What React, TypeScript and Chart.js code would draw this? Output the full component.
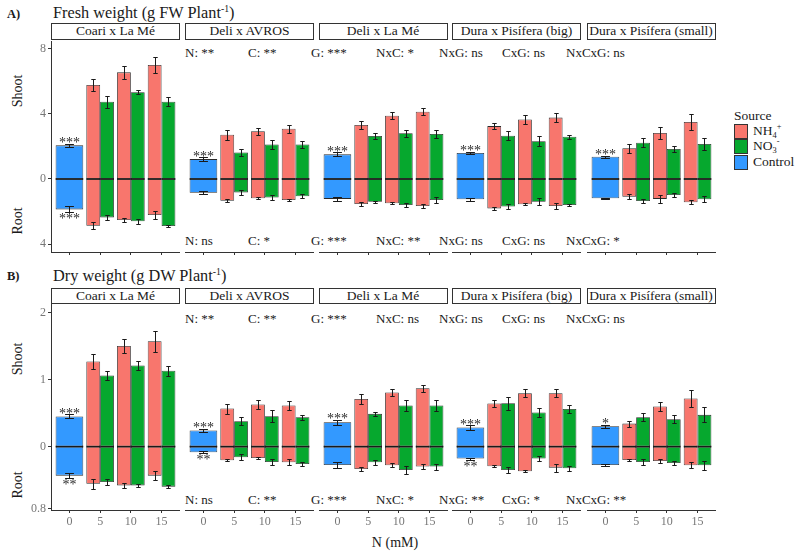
import React, { useEffect, useRef } from "react";
import { Chart, registerables } from "chart.js";

Chart.register(...registerables);

const SERIF = "'Liberation Serif', 'Times New Roman', serif";
const NH4_COLOR = "#F8766D";
const NO3_COLOR = "#06A82E";
const CTRL_COLOR = "#3399FF";
const EDGE = "#2a2a2a";
const AXIS = "#333333";
const TICK_TEXT = "#777777";

// ---------- categories ----------
const genotypes = ["Coari x La Mé", "Deli x AVROS", "Deli x La Mé", "Dura x Pisífera (big)", "Dura x Pisífera (small)"];
const nLevels = ["0", "5", "10", "15"];

// ---------- A) Fresh weight (g FW plant-1) ----------
const fwCtrlShoot = [2.06, 1.22, 1.51, 1.59, 1.37];
const fwCtrlShootErr = [0.11, 0.12, 0.12, 0.08, 0.06];
const fwCtrlRoot = [1.86, 0.84, 1.22, 1.24, 1.18];
const fwCtrlRootErr = [0.18, 0.1, 0.12, 0.1, 0.04];
// per genotype, N = 5, 10, 15 mM
const fwNH4Shoot = [[5.76, 6.53, 6.98], [2.71, 2.92, 3.08], [3.31, 3.88, 4.12], [3.24, 3.65, 3.76], [1.88, 2.82, 3.49]];
const fwNH4ShootErr = [[0.36, 0.4, 0.47], [0.31, 0.21, 0.24], [0.22, 0.22, 0.21], [0.2, 0.29, 0.29], [0.29, 0.39, 0.47]];
const fwNH4Root = [[2.86, 2.51, 2.2], [1.33, 1.18, 1.29], [1.53, 1.49, 1.65], [1.8, 1.55, 1.65], [1.08, 1.22, 1.43]];
const fwNH4RootErr = [[0.2, 0.13, 0.24], [0.08, 0.06, 0.06], [0.1, 0.06, 0.13], [0.11, 0.07, 0.18], [0.14, 0.22, 0.13]];
const fwNO3Shoot = [[4.73, 5.31, 4.73], [1.63, 2.12, 2.12], [2.63, 2.8, 2.76], [2.65, 2.31, 2.59], [2.22, 1.84, 2.14]];
const fwNO3ShootErr = [[0.36, 0.12, 0.29], [0.22, 0.28, 0.23], [0.17, 0.2, 0.24], [0.29, 0.3, 0.12], [0.29, 0.19, 0.35]];
const fwNO3Root = [[2.35, 2.59, 2.88], [0.82, 1.14, 1.06], [1.39, 1.59, 1.29], [1.69, 1.39, 1.59], [1.35, 0.98, 1.24]];
const fwNO3RootErr = [[0.17, 0.14, 0.04], [0.13, 0.17, 0.13], [0.06, 0.14, 0.2], [0.14, 0.2, 0.06], [0.14, 0.11, 0.18]];
const fwSigShoot = ["***", "***", "***", "***", "***"];
const fwSigRoot = ["***", "", "", "", ""];
const fwNotesTop = ["N: **", "C: **", "G: ***", "NxC: *", "NxG: ns", "CxG: ns", "NxCxG: ns"];
const fwNotesBottom = ["N: ns", "C: *", "G: ***", "NxC: **", "NxG: ns", "CxG: ns", "NxCxG: *"];
const fwShootTicks = [8, 4, 0];
const fwRootTicks = [4];

// ---------- B) Dry weight (g DW plant-1) ----------
const dwCtrlShoot = [0.45, 0.24, 0.363, 0.284, 0.303];
const dwCtrlShootErr = [0.03, 0.025, 0.04, 0.032, 0.02];
const dwCtrlRoot = [0.374, 0.073, 0.237, 0.155, 0.237];
const dwCtrlRootErr = [0.032, 0.01, 0.034, 0.013, 0.009];
const dwNH4Shoot = [[1.27, 1.5, 1.57], [0.567, 0.627, 0.612], [0.711, 0.806, 0.87], [0.642, 0.796, 0.796], [0.343, 0.597, 0.716]];
const dwNH4ShootErr = [[0.11, 0.11, 0.16], [0.075, 0.06, 0.072], [0.08, 0.057, 0.05], [0.057, 0.06, 0.062], [0.045, 0.067, 0.127]];
const dwNH4Root = [[0.48, 0.5, 0.374], [0.176, 0.146, 0.202], [0.288, 0.241, 0.258], [0.254, 0.318, 0.271], [0.172, 0.185, 0.241]];
const dwNH4RootErr = [[0.062, 0.034, 0.06], [0.013, 0.013, 0.04], [0.02, 0.026, 0.034], [0.013, 0.015, 0.052], [0.009, 0.03, 0.04]];
const dwNO3Shoot = [[1.06, 1.21, 1.13], [0.378, 0.453, 0.438], [0.488, 0.612, 0.612], [0.647, 0.507, 0.562], [0.438, 0.408, 0.473]];
const dwNO3ShootErr = [[0.062, 0.07, 0.075], [0.06, 0.092, 0.04], [0.032, 0.08, 0.075], [0.095, 0.072, 0.057], [0.06, 0.06, 0.112]];
const dwNO3Root = [[0.456, 0.5, 0.516], [0.138, 0.198, 0.224], [0.202, 0.301, 0.258], [0.301, 0.155, 0.28], [0.198, 0.211, 0.241]];
const dwNO3RootErr = [[0.034, 0.02, 0.02], [0.039, 0.039, 0.02], [0.03, 0.05, 0.04], [0.039, 0.028, 0.03], [0.04, 0.03, 0.056]];
const dwSigShoot = ["***", "***", "***", "***", "*"];
const dwSigRoot = ["**", "**", "", "**", ""];
const dwNotesTop = ["N: **", "C: **", "G: ***", "NxC: ns", "NxG: ns", "CxG: ns", "NxCxG: ns"];
const dwNotesBottom = ["N: ns", "C: **", "G: ***", "NxC: *", "NxG: **", "CxG: *", "NxCxG: **"];
const dwShootTicks = [2, 1, 0];
const dwRootTicks = [0.8];

// ---------- layout (not data) ----------
const facetLefts = [51, 185, 318.5, 452, 586.5];
const FACET_W = 129;
const Y_AXIS_W = 30;
const noteLefts = [185, 248, 311, 376, 439, 502, 566];

const panels: any[] = [
  {
    tag: "A)", title: "Fresh weight (g FW Plant", sup: "-1",
    ctrlShoot: fwCtrlShoot, ctrlShootErr: fwCtrlShootErr, ctrlRoot: fwCtrlRoot, ctrlRootErr: fwCtrlRootErr,
    nh4Shoot: fwNH4Shoot, nh4ShootErr: fwNH4ShootErr, nh4Root: fwNH4Root, nh4RootErr: fwNH4RootErr,
    no3Shoot: fwNO3Shoot, no3ShootErr: fwNO3ShootErr, no3Root: fwNO3Root, no3RootErr: fwNO3RootErr,
    sigShoot: fwSigShoot, sigRoot: fwSigRoot, notesTop: fwNotesTop, notesBottom: fwNotesBottom,
    shootTicks: fwShootTicks, rootTicks: fwRootTicks, rootFactor: 1, yMin: -4.47, yMax: 8.45,
    showX: false,
    L: { tagY: 14, titleY: 13, stripTop: 23.3, plotTop: 41, plotH: 211, xAxisH: 4, noteTopY: 52, noteBottomY: 240, shootY: 91, rootY: 221 },
  },
  {
    tag: "B)", title: "Dry weight (g DW Plant", sup: "-1",
    ctrlShoot: dwCtrlShoot, ctrlShootErr: dwCtrlShootErr, ctrlRoot: dwCtrlRoot, ctrlRootErr: dwCtrlRootErr,
    nh4Shoot: dwNH4Shoot, nh4ShootErr: dwNH4ShootErr, nh4Root: dwNH4Root, nh4RootErr: dwNH4RootErr,
    no3Shoot: dwNO3Shoot, no3ShootErr: dwNO3ShootErr, no3Root: dwNO3Root, no3RootErr: dwNO3RootErr,
    sigShoot: dwSigShoot, sigRoot: dwSigRoot, notesTop: dwNotesTop, notesBottom: dwNotesBottom,
    shootTicks: dwShootTicks, rootTicks: dwRootTicks, rootFactor: 1.157, yMin: -0.945, yMax: 2.14,
    showX: true,
    L: { tagY: 276, titleY: 276, stripTop: 287.5, plotTop: 303, plotH: 207, xAxisH: 19, noteTopY: 318, noteBottomY: 499, shootY: 359, rootY: 485 },
  },
];

const errorBarPlugin = {
  id: "errorBars",
  afterDatasetsDraw(chart: any) {
    const ctx = chart.ctx;
    const ys = chart.scales.y;
    const y0 = ys.getPixelForValue(0);
    ctx.save();
    ctx.strokeStyle = "#1a1a1a";
    ctx.fillStyle = "#1a1a1a";
    ctx.lineWidth = 1;
    chart.data.datasets.forEach((ds: any, di: number) => {
      const meta = chart.getDatasetMeta(di);
      meta.data.forEach((el: any, i: number) => {
        const v = ds.data[i].y;
        if (v === null || v === undefined) return;
        if (v > 0) {
          // shoot / root boundary line across the bar
          ctx.fillRect(el.x - el.width / 2, y0 - 0.75, el.width, 1.5);
        }
        const e = ds.errors[i] || 0;
        const p1 = Math.round(ys.getPixelForValue(v + e)) + 0.5;
        const p2 = Math.round(ys.getPixelForValue(v - e)) + 0.5;
        const cx = Math.round(el.x) + 0.5;
        const half = Math.max(2.2, el.width * 0.16);
        ctx.beginPath();
        ctx.moveTo(cx, p1); ctx.lineTo(cx, p2);
        ctx.moveTo(cx - half, p1); ctx.lineTo(cx + half, p1);
        ctx.moveTo(cx - half, p2); ctx.lineTo(cx + half, p2);
        ctx.stroke();
      });
    });
    ctx.restore();
  },
};

function makeStarsPlugin(above: string, below: string) {
  return {
    id: "ctrlStars",
    afterDatasetsDraw(chart: any) {
      const ctx = chart.ctx;
      const ys = chart.scales.y;
      const dsS = chart.data.datasets[0];
      const dsR = chart.data.datasets[1];
      const elS = chart.getDatasetMeta(0).data[0];
      const elR = chart.getDatasetMeta(1).data[0];
      ctx.save();
      ctx.fillStyle = "#2b2b2b";
      ctx.font = `14px ${SERIF}`;
      ctx.textAlign = "center";
      ctx.textBaseline = "alphabetic";
      if (above && elS) {
        const top = ys.getPixelForValue(dsS.data[0].y + dsS.errors[0]);
        ctx.fillText(above, elS.x, top + 3.4);
      }
      if (below && elR) {
        const bot = ys.getPixelForValue(dsR.data[0].y - dsR.errors[0]);
        ctx.fillText(below, elR.x, bot + 11);
      }
      ctx.restore();
    },
  };
}

function buildConfig(P: any, g: number, first: boolean): any {
  const k = P.rootFactor;
  const ctrlS = [P.ctrlShoot[g], null, null, null];
  const ctrlSE = [P.ctrlShootErr[g], 0, 0, 0];
  const ctrlR = [-P.ctrlRoot[g] * k, null, null, null];
  const ctrlRE = [P.ctrlRootErr[g] * k, 0, 0, 0];
  const nh4S = [null, ...P.nh4Shoot[g]];
  const nh4SE = [0, ...P.nh4ShootErr[g]];
  const nh4R = [null, ...P.nh4Root[g].map((v: number) => -v * k)];
  const nh4RE = [0, ...P.nh4RootErr[g].map((v: number) => v * k)];
  const no3S = [null, ...P.no3Shoot[g]];
  const no3SE = [0, ...P.no3ShootErr[g]];
  const no3R = [null, ...P.no3Root[g].map((v: number) => -v * k)];
  const no3RE = [0, ...P.no3RootErr[g].map((v: number) => v * k)];

  const mk = (label: string, stack: string, vals: any[], errs: number[], color: string) => ({
    label, stack,
    data: vals.map((y, i) => ({ x: i, y })),
    errors: errs,
    backgroundColor: color,
    borderColor: EDGE,
    borderWidth: 0.8,
    borderSkipped: false,
    inflateAmount: 0,
    skipNull: true,
    grouped: true,
    categoryPercentage: 0.9,
    barPercentage: 1,
  });

  // the "0" tick is nudged by a negligible epsilon so Chart.js does not carve a grid-line gap at the bar base
  const yTicks = [
    ...P.shootTicks.map((v: number) => ({ value: v === 0 ? 1e-9 : v, label: String(v) })),
    ...P.rootTicks.map((v: number) => ({ value: -v * k, label: String(v) })),
  ].sort((a, b) => a.value - b.value);

  return {
    type: "bar",
    data: {
      datasets: [
        mk("Control shoot", "C", ctrlS, ctrlSE, CTRL_COLOR),
        mk("Control root", "C", ctrlR, ctrlRE, CTRL_COLOR),
        mk("NH4+ shoot", "A", nh4S, nh4SE, NH4_COLOR),
        mk("NH4+ root", "A", nh4R, nh4RE, NH4_COLOR),
        mk("NO3- shoot", "N", no3S, no3SE, NO3_COLOR),
        mk("NO3- root", "N", no3R, no3RE, NO3_COLOR),
      ],
    },
    options: {
      responsive: false,
      maintainAspectRatio: false,
      animation: false,
      events: [],
      layout: { padding: 0 },
      plugins: { legend: { display: false }, tooltip: { enabled: false } },
      scales: {
        x: {
          type: "linear",
          min: -0.6,
          max: 3.6,
          offset: false,
          afterBuildTicks: (s: any) => { s.ticks = nLevels.map((_, i) => ({ value: i })); },
          afterFit: (s: any) => { s.height = P.L.xAxisH; s.paddingLeft = 0; s.paddingRight = 0; },
          ticks: {
            display: P.showX,
            autoSkip: false,
            maxRotation: 0,
            padding: 2,
            color: TICK_TEXT,
            font: { family: SERIF, size: 12 },
            callback: (_v: any, i: number) => nLevels[i],
          },
          grid: { display: true, drawOnChartArea: false, drawTicks: true, tickLength: 3, color: AXIS, offset: false },
          border: { display: true, color: AXIS, width: 1 },
        },
        y: {
          display: first,
          min: P.yMin,
          max: P.yMax,
          afterBuildTicks: (s: any) => { s.ticks = yTicks.map((t) => ({ value: t.value })); },
          afterFit: (s: any) => { s.width = first ? Y_AXIS_W : 0; s.paddingTop = 0; s.paddingBottom = 0; },
          ticks: {
            autoSkip: false,
            padding: 2,
            color: TICK_TEXT,
            font: { family: SERIF, size: 12 },
            callback: (_v: any, i: number) => yTicks[i] ? yTicks[i].label : "",
          },
          grid: { display: true, drawOnChartArea: false, drawTicks: true, tickLength: 3, color: AXIS },
          border: { display: true, color: AXIS, width: 1 },
        },
      },
    },
    plugins: [errorBarPlugin, makeStarsPlugin(P.sigShoot[g], P.sigRoot[g])],
  };
}

function Facet({ P, g }: { P: any; g: number }) {
  const ref = useRef<HTMLCanvasElement>(null);
  const first = g === 0;
  const extra = first ? Y_AXIS_W : 0;
  const w = FACET_W + extra;
  const h = P.L.plotH + P.L.xAxisH;
  useEffect(() => {
    const chart = new Chart(ref.current as HTMLCanvasElement, buildConfig(P, g, first));
    return () => chart.destroy();
  }, []);
  return (
    <canvas
      ref={ref}
      width={w}
      height={h}
      style={{ position: "absolute", left: facetLefts[g] - extra, top: P.L.plotTop, width: w, height: h }}
    />
  );
}

const txt = (x: number, y: number, size: number, extra: any = {}): any => ({
  position: "absolute", left: x, top: y, transform: "translateY(-50%)", fontFamily: SERIF,
  fontSize: size, lineHeight: 1, whiteSpace: "nowrap", color: "#1a1a1a", ...extra,
});

function PanelTexts({ P }: { P: any }) {
  const L = P.L;
  return (
    <>
      <div style={txt(7, L.tagY, 12.5, { fontWeight: "bold" })}>{P.tag}</div>
      <div style={txt(53, L.titleY, 16.3)}>
        {P.title}
        <sup style={{ fontSize: "0.6em", verticalAlign: "0.6em" }}>{P.sup}</sup>)
      </div>
      {genotypes.map((gname, i) => (
        <div
          key={gname}
          style={{
            position: "absolute", left: facetLefts[i], top: L.stripTop, width: FACET_W, height: 16.5,
            boxSizing: "border-box", border: "1.2px solid #333", fontFamily: SERIF, fontSize: 13.5,
            lineHeight: "14.5px", textAlign: "center", whiteSpace: "nowrap", color: "#1a1a1a", background: "#fff",
          }}
        >
          {gname}
        </div>
      ))}
      {P.notesTop.map((t: string, i: number) => (
        <div key={"t" + i} style={txt(noteLefts[i], L.noteTopY, 13)}>{t}</div>
      ))}
      {P.notesBottom.map((t: string, i: number) => (
        <div key={"b" + i} style={txt(noteLefts[i], L.noteBottomY, 13)}>{t}</div>
      ))}
      <div style={{ ...txt(18, L.shootY, 14), transform: "translate(-50%, -50%) rotate(-90deg)" }}>Shoot</div>
      <div style={{ ...txt(18, L.rootY, 14), transform: "translate(-50%, -50%) rotate(-90deg)" }}>Root</div>
    </>
  );
}

function Legend() {
  const items = [
    { color: NH4_COLOR, label: <>NH<sub style={{ fontSize: "0.62em" }}>4</sub><sup style={{ fontSize: "0.62em" }}>+</sup></> },
    { color: NO3_COLOR, label: <>NO<sub style={{ fontSize: "0.62em" }}>3</sub><sup style={{ fontSize: "0.62em" }}>-</sup></> },
    { color: CTRL_COLOR, label: <>Control</> },
  ];
  return (
    <>
      <div style={txt(734, 116, 13.5)}>Source</div>
      {items.map((it, i) => (
        <React.Fragment key={i}>
          <div
            style={{
              position: "absolute", left: 734, top: 124 + i * 15.3, width: 14, height: 15,
              boxSizing: "border-box", border: "1px solid #333", background: it.color,
            }}
          />
          <div style={txt(753, 131.5 + i * 15.3, 13.5)}>{it.label}</div>
        </React.Fragment>
      ))}
    </>
  );
}

export default function App() {
  return (
    <div style={{ position: "absolute", left: 0, top: 0, width: 798, height: 554, background: "#fff", overflow: "hidden" }}>
      {panels.map((P, pi) => (
        <React.Fragment key={pi}>
          <PanelTexts P={P} />
          {genotypes.map((_, g) => (
            <Facet key={g} P={P} g={g} />
          ))}
        </React.Fragment>
      ))}
      <Legend />
      <div style={{ ...txt(395, 543, 14), transform: "translate(-50%, -50%)" }}>N (mM)</div>
    </div>
  );
}
